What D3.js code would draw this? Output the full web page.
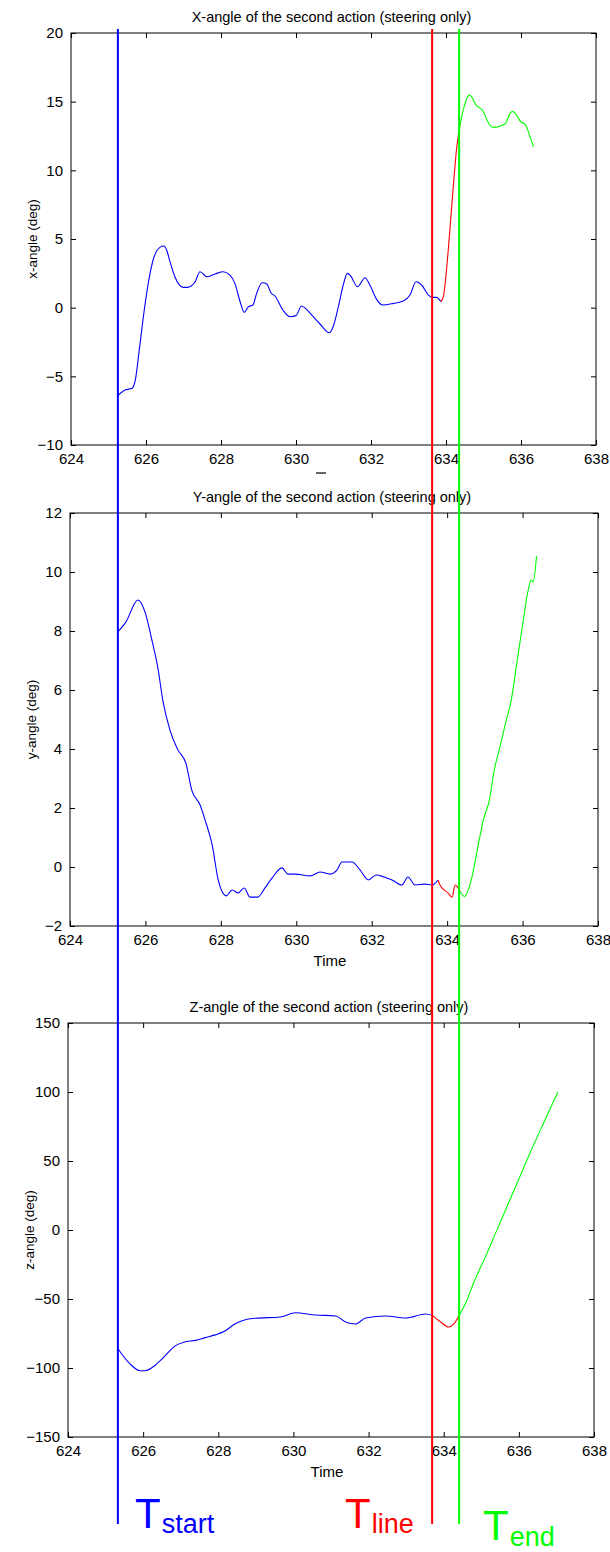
<!DOCTYPE html>
<html><head><meta charset="utf-8">
<script src="https://cdn.jsdelivr.net/npm/d3@7"></script>
<style>
html,body{margin:0;padding:0;background:#fff;}
text{font-family:"Liberation Sans",Arial,sans-serif;}
</style></head>
<body>
<svg id="chart" width="610" height="1552"></svg>
<script>
// ---------- data ----------
const timeTicks = [624, 626, 628, 630, 632, 634, 636, 638];
const xAngleTicks = [-10, -5, 0, 5, 10, 15, 20];
const yAngleTicks = [-2, 0, 2, 4, 6, 8, 10, 12];
const zAngleTicks = [-150, -100, -50, 0, 50, 100, 150];

const markerTimes = {start: 625.25, line: 633.63, end: 634.35};

// X-angle (t, deg)
const xAngleBlue = [[625.25,-6.4],[625.44,-6.0],[625.63,-5.86],[625.72,-5.2],[625.82,-3.09],[625.93,-0.66],[626.06,1.77],[626.19,3.47],[626.37,4.39],[626.48,4.49],[626.55,4.2],[626.64,3.35],[626.77,2.25],[626.99,1.48],[627.10,1.48],[627.31,1.89],[627.44,2.62],[627.62,2.25],[627.84,2.45],[628.06,2.62],[628.24,2.37],[628.37,1.77],[628.51,0.43],[628.62,-0.34],[628.73,0.07],[628.85,0.19],[628.95,1.04],[629.10,1.81],[629.22,1.72],[629.33,1.09],[629.44,0.85],[629.65,-0.17],[629.84,-0.66],[630.00,-0.58],[630.15,0.12],[630.28,-0.12],[630.46,-0.66],[630.64,-1.19],[630.89,-1.83],[630.99,-1.39],[631.13,0.07],[631.26,1.65],[631.37,2.5],[631.46,2.3],[631.64,1.52],[631.84,2.18],[631.97,1.65],[632.15,0.6],[632.31,0.19],[632.60,0.31],[632.86,0.48],[633.04,0.92],[633.20,1.89],[633.35,1.65],[633.53,0.92],[633.62,0.75],[633.75,0.75],[633.86,0.43]];
const xAngleRed = [[633.86,0.43],[633.93,0.8],[634.06,4.2],[634.18,8.33],[634.28,11.5],[634.35,12.94]];
const xAngleGreen = [[634.35,12.94],[634.46,14.4],[634.62,15.48],[634.70,15.3],[634.77,14.88],[634.99,14.3],[635.17,13.3],[635.29,13.13],[635.57,13.37],[635.71,14.15],[635.78,14.3],[635.88,14.03],[635.99,13.54],[636.11,13.37],[636.24,12.45],[636.33,11.72]];

// Y-angle (t, deg)
const yAngleBlue = [[625.27,7.97],[625.48,8.3],[625.80,9.05],[625.99,8.64],[626.17,7.7],[626.33,6.75],[626.46,5.66],[626.65,4.64],[626.86,3.97],[627.07,3.53],[627.23,2.6],[627.45,2.1],[627.58,1.6],[627.77,0.75],[627.93,-0.44],[628.14,-0.98],[628.30,-0.78],[628.46,-0.88],[628.62,-0.71],[628.77,-1.02],[628.98,-1.02],[629.17,-0.71],[629.36,-0.37],[629.62,-0.03],[629.78,-0.24],[629.97,-0.24],[630.37,-0.3],[630.63,-0.17],[630.90,-0.24],[631.08,-0.1],[631.21,0.17],[631.48,0.17],[631.69,-0.1],[631.91,-0.44],[632.12,-0.27],[632.33,-0.34],[632.54,-0.44],[632.80,-0.61],[632.96,-0.34],[633.15,-0.61],[633.41,-0.58],[633.60,-0.61],[633.76,-0.44]];
const yAngleRed = [[633.76,-0.44],[633.81,-0.61],[634.02,-0.88],[634.13,-1.02],[634.21,-0.61],[634.35,-0.85]];
const yAngleGreen = [[634.35,-0.85],[634.46,-1.0],[634.64,-0.44],[634.80,0.58],[634.96,1.6],[635.12,2.27],[635.25,3.29],[635.38,3.97],[635.57,4.98],[635.70,5.66],[635.86,7.02],[636.02,8.37],[636.15,9.39],[636.23,9.73],[636.28,9.66],[636.37,10.54]];

// Z-angle (t, deg)
const zAngleBlue = [[625.33,-86],[625.65,-97],[625.92,-102],[626.05,-102],[626.32,-98],[626.59,-91],[626.85,-84],[627.12,-81],[627.39,-80],[627.65,-78],[627.92,-76],[628.19,-73],[628.45,-68],[628.72,-65],[628.99,-64],[629.65,-63],[630.05,-60],[630.59,-61.6],[631.12,-62.3],[631.39,-66.7],[631.65,-68.1],[631.92,-63.8],[632.45,-62.3],[632.99,-63.8],[633.52,-60.9],[633.71,-62]];
const zAngleRed = [[633.71,-62],[633.92,-66.7],[634.13,-70.3],[634.27,-68.1],[634.43,-60.9]];
const zAngleGreen = [[634.43,-60.9],[634.6,-52],[634.8,-38],[635.1,-20],[635.4,-1],[635.7,18],[636.0,37],[636.3,56],[636.6,74],[636.85,89],[637.04,100]];

// ---------- layout ----------
const panels = [
  {top:33, bottom:445, left:71, right:596, yDomain:[-10,20], yTicks:xAngleTicks,
   title:"X-angle of the second action (steering only)", ylabel:"x-angle (deg)", xlabel:null,
   series:[[xAngleBlue,"#0000ff"],[xAngleRed,"#ff0000"],[xAngleGreen,"#00ff00"]]},
  {top:513, bottom:926, left:70, right:598, yDomain:[-2,12], yTicks:yAngleTicks,
   title:"Y-angle of the second action (steering only)", ylabel:"y-angle (deg)", xlabel:"Time",
   series:[[yAngleBlue,"#0000ff"],[yAngleRed,"#ff0000"],[yAngleGreen,"#00ff00"]]},
  {top:1023, bottom:1437, left:68, right:594, yDomain:[-150,150], yTicks:zAngleTicks,
   title:"Z-angle of the second action (steering only)", ylabel:"z-angle (deg)", xlabel:"Time",
   series:[[zAngleBlue,"#0000ff"],[zAngleRed,"#ff0000"],[zAngleGreen,"#00ff00"]]}
];

const svg = d3.select("#chart");
let firstX = null;

panels.forEach((p, i) => {
  const x = d3.scaleLinear().domain([624, 638]).range([p.left, p.right]);
  const y = d3.scaleLinear().domain(p.yDomain).range([p.bottom, p.top]);
  if (i === 0) firstX = x;
  const g = svg.append("g");

  g.append("rect").attr("x", p.left).attr("y", p.top)
    .attr("width", p.right - p.left).attr("height", p.bottom - p.top)
    .attr("fill", "none").attr("stroke", "#000").attr("stroke-width", 1);

  const axB = d3.axisBottom(x).tickValues(timeTicks).tickSize(-5).tickPadding(8).tickFormat(d3.format("d"));
  const axT = d3.axisTop(x).tickValues(timeTicks).tickSize(-5).tickFormat("");
  const axL = d3.axisLeft(y).tickValues(p.yTicks).tickSize(-5).tickPadding(8).tickFormat(d3.format("d"));
  const axR = d3.axisRight(y).tickValues(p.yTicks).tickSize(-5).tickFormat("");
  [[axB, `translate(0,${p.bottom})`], [axT, `translate(0,${p.top})`],
   [axL, `translate(${p.left},0)`], [axR, `translate(${p.right},0)`]].forEach(([ax, tr]) => {
    const a = g.append("g").attr("transform", tr).call(ax);
    a.select(".domain").remove();
    a.selectAll("line").attr("stroke", "#000");
    a.selectAll("text").attr("font-size", 15).attr("fill", "#000")
      .attr("font-family", "'Liberation Sans', Arial, sans-serif");
  });

  g.append("text").attr("x", (p.left + p.right) / 2 - 2).attr("y", p.top - 11)
    .attr("text-anchor", "middle").attr("font-size", 14.5).text(p.title);
  g.append("text").attr("transform", `translate(${p.left - 34},${(p.top + p.bottom) / 2}) rotate(-90)`)
    .attr("text-anchor", "middle").attr("font-size", 13.5).text(p.ylabel);
  if (p.xlabel) {
    g.append("text").attr("x", (p.left + p.right) / 2 - 4).attr("y", p.bottom + 40)
      .attr("text-anchor", "middle").attr("font-size", 15).text(p.xlabel);
  }

  const line = d3.line().x(d => x(d[0])).y(d => y(d[1])).curve(d3.curveMonotoneX);
  p.series.forEach(([data, color]) => {
    g.append("path").datum(data).attr("d", line)
      .attr("fill", "none").attr("stroke", color).attr("stroke-width", 1.1);
  });
});

svg.append("line").attr("x1", 316).attr("x2", 326).attr("y1", 473).attr("y2", 473)
  .attr("stroke", "#000").attr("stroke-width", 1.2);

const markers = [
  {t: markerTimes.start, color: "#0000ff", label: "T", sub: "start"},
  {t: markerTimes.line, color: "#ff0000", label: "T", sub: "line"},
  {t: markerTimes.end, color: "#00ff00", label: "T", sub: "end"}
];
markers.forEach(m => {
  svg.append("line").attr("x1", firstX(m.t)).attr("x2", firstX(m.t))
    .attr("y1", 29).attr("y2", 1524).attr("stroke", m.color).attr("stroke-width", 2);
});

const labelPos = [
  {x: 135, y: 1528, subY: 1533},
  {x: 345, y: 1528, subY: 1533},
  {x: 483, y: 1540, subY: 1546}
];
markers.forEach((m, i) => {
  const t = svg.append("text").attr("x", labelPos[i].x).attr("y", labelPos[i].y)
    .attr("fill", m.color);
  t.append("tspan").attr("font-size", 42).text(m.label);
  t.append("tspan").attr("font-size", 27).attr("dx", 1)
    .attr("dy", labelPos[i].subY - labelPos[i].y).text(m.sub);
});
</script>
</body></html>
